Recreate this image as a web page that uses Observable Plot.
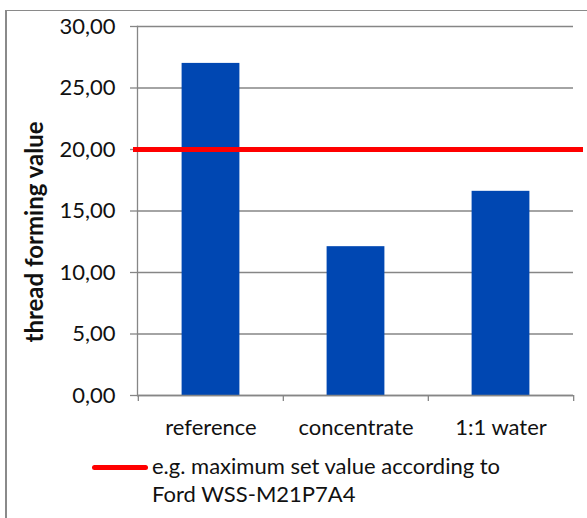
<!DOCTYPE html>
<html>
<head>
<meta charset="utf-8">
<script src="https://cdn.jsdelivr.net/npm/d3@7"></script>
<script src="https://cdn.jsdelivr.net/npm/@observablehq/plot@0.6"></script>
<style>
  html, body { margin: 0; padding: 0; background: #fff; }
  #wrap { position: relative; width: 587px; height: 518px; overflow: hidden; font-family: Lato, "Open Sans", sans-serif; }
  #border { position: absolute; left: 5px; top: 10px; width: 600px; height: 600px; border-left: 2px solid #8a8a8a; border-top: 1.5px solid #8a8a8a; }
  #chart { position: absolute; left: 0; top: 0; }
  #legend { position: absolute; left: 0; top: 445px; width: 587px; }
  #legend .swatch { position: absolute; left: 92px; top: 19.5px; width: 56px; height: 5px; border-radius: 3px; background: #ff0000; }
  #legend .txt { position: absolute; left: 152px; top: 7px; font-size: 22px; line-height: 28px; color: #111; white-space: nowrap; }
</style>
</head>
<body>
<div id="wrap">
  <div id="border"></div>
  <div id="chart"></div>
  <div id="legend"><div class="swatch"></div><div class="txt"></div></div>
</div>
<script>
const categories = ["reference", "concentrate", "1:1 water"];
const values = [27.0, 12.1, 16.6];
const limitValue = 20;
const limitLabel = ["e.g. maximum set value according to", "Ford WSS-M21P7A4"];
const yTicks = [0, 5, 10, 15, 20, 25, 30];
const yTitle = "thread forming value";

const data = categories.map((c, i) => ({category: c, value: values[i]}));
const W = 587, H = 445, mL = 137, mR = 14, mT = 26, mB = 50;
const bw = (W - mL - mR) / categories.length;
const fmt = d => d3.format(".2f")(d).replace(".", ",");
const grey = "#868686";

const chart = Plot.plot({
  width: W, height: H,
  marginLeft: mL, marginRight: mR, marginTop: mT, marginBottom: mB,
  style: {fontFamily: "Lato, 'Open Sans', sans-serif", fontSize: "22px", color: "#111", background: "transparent", overflow: "visible"},
  x: {domain: categories, padding: 0},
  y: {domain: [0, 30]},
  marks: [
    Plot.gridY(yTicks, {stroke: grey, strokeOpacity: 1, strokeWidth: 1.3}),
    Plot.axisY(yTicks, {tickFormat: fmt, tickSize: 7, tickPadding: 15, stroke: grey, strokeWidth: 1.3, fontSize: 22, label: null}),
    Plot.axisX({tickSize: 0, tickPadding: 24, fontSize: 22, label: null}),
    Plot.barY(data, {x: "category", y: "value", fill: "#0047b2", insetLeft: bw * 0.3, insetRight: bw * 0.3}),
    Plot.ruleY([0], {stroke: grey, strokeWidth: 1.3}),
    Plot.frame({anchor: "left", stroke: grey, strokeWidth: 1.3}),
    Plot.ruleX(categories, {x: d => d, y1: 0, y2: 0, insetBottom: -6, dx: -bw / 2, stroke: grey, strokeWidth: 1.3}),
    Plot.ruleX([categories[categories.length - 1]], {x: d => d, y1: 0, y2: 0, insetBottom: -6, dx: bw / 2, stroke: grey, strokeWidth: 1.3}),
    Plot.ruleY([limitValue], {stroke: "#ff0000", strokeWidth: 5, insetLeft: -4, insetRight: -10}),
    Plot.text([yTitle], {frameAnchor: "left", textAnchor: "middle", rotate: -90, dx: -102, dy: 21, fontWeight: "bold", fontSize: 24, fill: "#111"})
  ]
});
document.getElementById("chart").appendChild(chart);
document.querySelector("#legend .txt").innerHTML = limitLabel.join("<br>");
</script>
</body>
</html>
